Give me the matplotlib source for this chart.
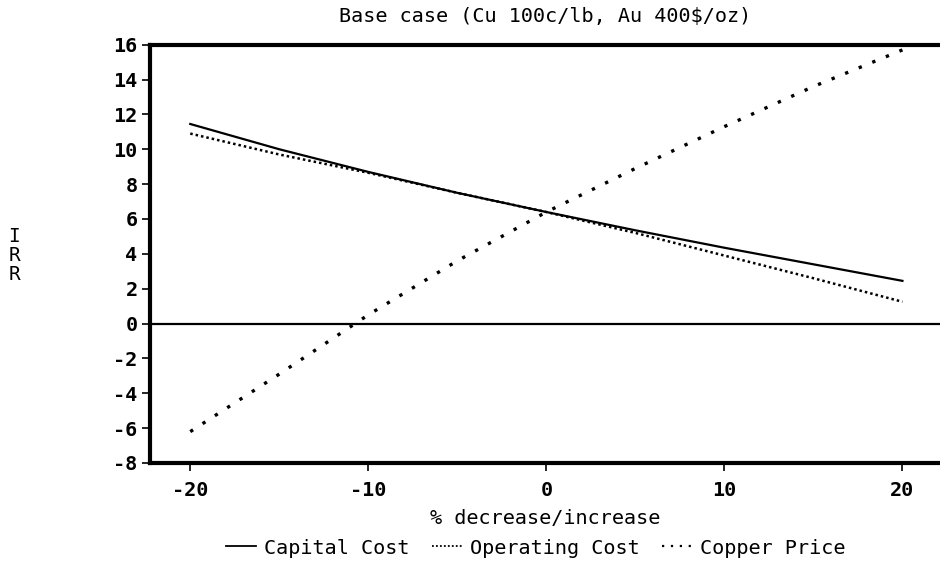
import matplotlib
matplotlib.use("Agg")
import matplotlib.pyplot as plt
from matplotlib.lines import Line2D

# data (IRR % vs % change)
pct = [-20, -15, -10, -5, 0, 5, 10, 15, 20]
capital_cost = [11.45, 10.0, 8.7, 7.5, 6.4, 5.35, 4.35, 3.4, 2.45]
operating_cost = [10.9, 9.7, 8.65, 7.5, 6.4, 5.2, 3.9, 2.6, 1.25]
copper_price = [-6.2, -2.9, 0.5, 3.6, 6.4, 8.9, 11.3, 13.6, 15.7]

xticks = [-20, -10, 0, 10, 20]
yticks = list(range(-8, 17, 2))

plt.rcParams['font.family'] = ['DejaVu Sans Mono']

fig = plt.figure(figsize=(9.4, 5.88), dpi=100)
ax = fig.add_axes([0.1596, 0.2126, 0.8404, 0.7114])

ax.plot(pct, capital_cost, color='black', lw=1.6, linestyle='-')
ax.plot(pct, operating_cost, color='black', lw=1.8, linestyle=(0, (1, 1.2)))
ax.plot(pct, copper_price, color='black', lw=2.4, linestyle=(0, (1, 3.4)))
ax.axhline(0, color='black', lw=1.6)

ax.set_xlim(-22.26, 22.11)
ax.set_ylim(-8, 16)
ax.set_xticks(xticks)
ax.set_yticks(yticks)
ax.set_xticklabels([str(t) for t in xticks], fontsize=14.5, fontweight='bold')
ax.set_yticklabels([str(t) for t in yticks], fontsize=14.5, fontweight='bold')
ax.tick_params(axis='y', direction='out', length=6, width=1.2, pad=3)
ax.tick_params(axis='x', direction='out', length=6, width=1.2, pad=7)

for side in ['left', 'top', 'bottom']:
    ax.spines[side].set_linewidth(3)
ax.spines['right'].set_visible(False)

fig.text(0.58, 0.972, 'Base case (Cu 100c/lb, Au 400$/oz)', ha='center', va='center', fontsize=14.5)
fig.text(0.015, 0.566, 'I\nR\nR', ha='center', va='center', fontsize=14, linespacing=1.0)
fig.text(0.58, 0.119, '% decrease/increase', ha='center', va='center', fontsize=14.5)

handles = [
    Line2D([], [], color='black', lw=1.3, linestyle='-'),
    Line2D([], [], color='black', lw=1.3, linestyle=(0, (1, 1.2))),
    Line2D([], [], color='black', lw=1.6, linestyle=(0, (1, 3))),
]
labels = ['Capital Cost', 'Operating Cost', 'Copper Price']
fig.legend(handles, labels, loc='center', bbox_to_anchor=(0.57, 0.068), ncol=3, frameon=False,
           fontsize=14.5, handlelength=1.5, handletextpad=0.4, columnspacing=1.1)

fig.savefig('out.png', dpi=100, facecolor='white')
